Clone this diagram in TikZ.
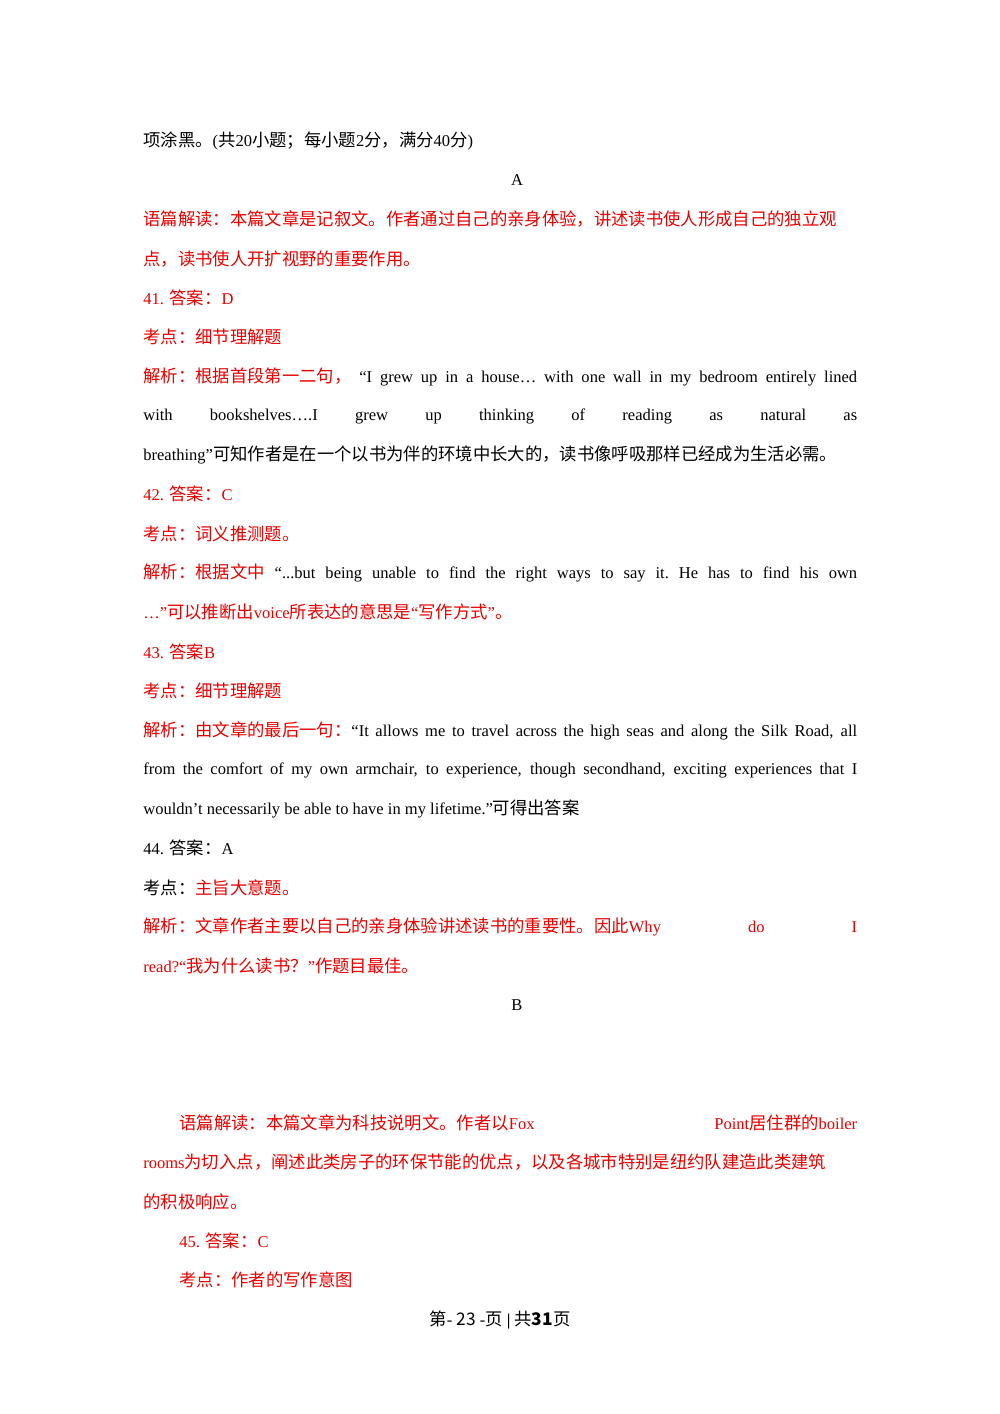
\documentclass[tikz,border=0pt]{standalone}
\usepackage{fontspec}
\setmainfont{Liberation Serif}
\newfontfamily\cjk[Scale=1.05]{Noto Sans CJK SC}
\newcommand{\C}[1]{{\cjk #1}}
\definecolor{rd}{RGB}{230,0,0}
\begin{document}
\begin{tikzpicture}[x=0.02cm,y=-0.02cm,
  ln/.style={anchor=west,inner sep=0pt,font=\fontsize{9.4}{11}\selectfont},
  r/.style={ln,text=rd},
  k/.style={ln,text=black}]
\useasboundingbox (0,0) rectangle (1000,1414);
\node[k] (l1) at (143,141) {\C{项涂黑。}(\C{共}20\C{小题；每小题}2\C{分，满分}40\C{分})};
\node[ln,anchor=center] (a) at (517,180) {A};
\node[r] (l2) at (143,219) {\C{语篇解读：本篇文章是记叙文。作者通过自己的亲身体验，讲述读书使人形成自己的独立观}};
\node[r] (l3) at (143,259) {\C{点，读书使人开扩视野的重要作用。}};
\node[r] (l4) at (143,298) {41. \C{答案：}D};
\node[r] (l5) at (143,337) {\C{考点：细节理解题}};
\node[ln] (l6) at (143,377) {\makebox[14.28cm][s]{\color{rd}\C{解析：根据首段第一二句，}\hfill\color{black}“I\hfill grew\hfill up\hfill in\hfill a\hfill house…\hfill with\hfill one\hfill wall\hfill in\hfill my\hfill bedroom\hfill entirely\hfill lined}};
\node[k] (l7) at (143,416) {\makebox[14.28cm][s]{with\hfill bookshelves….I\hfill grew\hfill up\hfill thinking\hfill of\hfill reading\hfill as\hfill natural\hfill as}};
\node[k] (l8) at (143,455) {breathing”\C{可知作者是在一个以书为伴的环境中长大的，读书像呼吸那样已经成为生活必需。}};
\node[r] (l9) at (143,494) {42. \C{答案：}C};
\node[r] (l10) at (143,534) {\C{考点：词义推测题。}};
\node[ln] (l11) at (143,573) {\makebox[14.28cm][s]{\color{rd}\C{解析：根据文中}\hfill\color{black}“...but\hfill being\hfill unable\hfill to\hfill find\hfill the\hfill right\hfill ways\hfill to\hfill say\hfill it.\hfill He\hfill has\hfill to\hfill find\hfill his\hfill own}};
\node[r] (l12) at (143,612) {…”\C{可以推断出}voice\C{所表达的意思是}“\C{写作方式}”\C{。}};
\node[r] (l13) at (143,652) {43. \C{答案}B};
\node[r] (l14) at (143,691) {\C{考点：细节理解题}};
\node[ln] (l15) at (143,731) {\makebox[14.28cm][s]{\color{rd}\C{解析：由文章的最后一句：}\color{black}“It allows me to travel across the high seas and along the Silk Road, all}};
\node[k] (l16) at (143,770) {\makebox[14.28cm][s]{from the comfort of my own armchair, to experience, though secondhand, exciting experiences that I}};
\node[k] (l17) at (143,809) {wouldn't necessarily be able to have in my lifetime.”\C{可得出答案}};
\node[k] (l18) at (143,848) {44. \C{答案：}A};
\node[ln] (l19) at (143,888) {\C{考点：}\color{rd}\C{主旨大意题。}};
\node[r] (l20) at (143,927) {\makebox[14.28cm][s]{\C{解析：文章作者主要以自己的亲身体验讲述读书的重要性。因此}Why\hfill do\hfill I}};
\node[r] (l21) at (143,966) {read?“\C{我为什么读书？}”\C{作题目最佳。}};
\node[ln,anchor=center] (b) at (517,1005) {B};
\node[r] (l22) at (179,1123) {\makebox[13.56cm][s]{\C{语篇解读：本篇文章为科技说明文。作者以}Fox\hfill Point\C{居住群的}boiler}};
\node[r] (l23) at (143,1162) {rooms\C{为切入点，阐述此类房子的环保节能的优点，以及各城市特别是纽约队建造此类建筑}};
\node[r] (l24) at (143,1202) {\C{的积极响应。}};
\node[r] (l25) at (179,1241) {45. \C{答案：}C};
\node[r] (l26) at (179,1280) {\C{考点：作者的写作意图}};
\node[ln,anchor=center] (ft) at (500,1320) {\C{第}- \C{23} -\C{页} \textbf{|} \C{共}\C{\textbf{31}}\C{页}};
\end{tikzpicture}
\end{document}
